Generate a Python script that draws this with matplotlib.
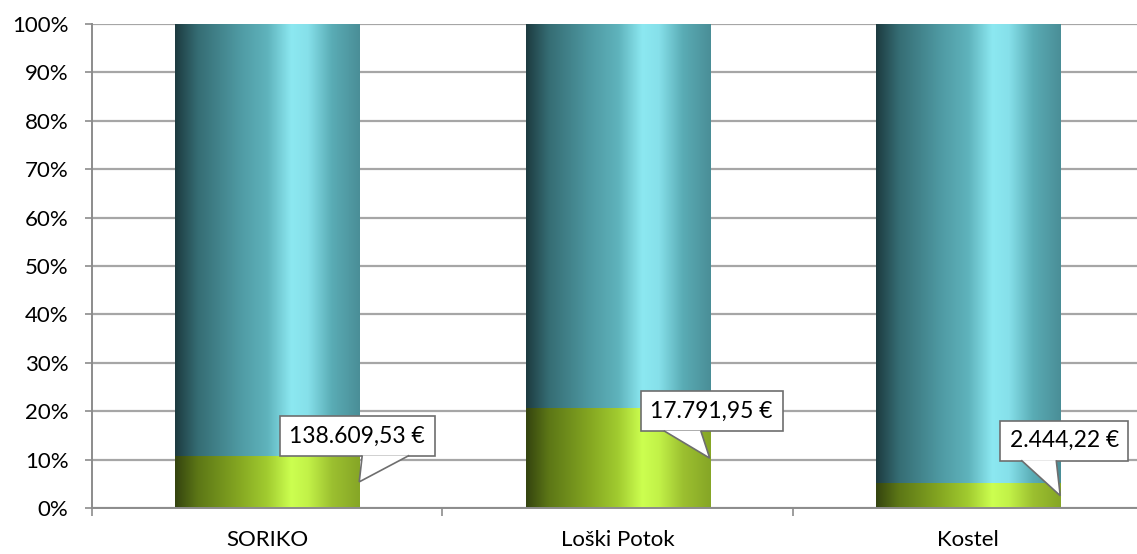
#!/usr/bin/env python3
"""
100% stacked columns with cylinder-style gradient fill and callout labels
"""

import numpy as np
import matplotlib
matplotlib.use("Agg")
import matplotlib.pyplot as plt
import matplotlib.transforms as mtransforms
from matplotlib.colors import LinearSegmentedColormap
from matplotlib.patches import Polygon
from matplotlib.ticker import FuncFormatter, FixedLocator

categories = ["SORIKO", "Loški Potok", "Kostel"]
share_green = [10.8, 20.6, 5.1]          # % of total
share_teal = [100 - v for v in share_green]
callout_text = ["138.609,53 €", "17.791,95 €", "2.444,22 €"]

plt.rcParams["font.family"] = ["Lato", "DejaVu Sans"]

teal_cmap = LinearSegmentedColormap.from_list(
    "teal",
    [(0.0, "#1d3b40"), (0.12, "#356c73"), (0.35, "#4f9aa3"),
     (0.50, "#5fb3bc"), (0.63, "#8ce8f1"), (0.72, "#86e0ea"),
     (0.85, "#5aacb5"), (1.0, "#4a8e97")])
green_cmap = LinearSegmentedColormap.from_list(
    "green",
    [(0.0, "#34440f"), (0.12, "#5c7616"), (0.35, "#86a822"),
     (0.50, "#a2cc30"), (0.63, "#ccff50"), (0.72, "#c2f248"),
     (0.85, "#9cc030"), (1.0, "#86a626")])

fig = plt.figure(figsize=(11.37, 5.54), dpi=100)
ax = fig.add_axes([0.0809, 0.083, 0.9248, 0.8737])

x = np.arange(len(categories))
width = 0.525
bars_green = ax.bar(x, share_green, width, color="none", edgecolor="none")
bars_teal = ax.bar(x, share_teal, width, bottom=share_green,
                   color="none", edgecolor="none")

grad = np.linspace(0, 1, 256).reshape(1, -1)
for bars, cmap in ((bars_green, green_cmap), (bars_teal, teal_cmap)):
    for p in bars:
        x0, y0 = p.get_x(), p.get_y()
        im = ax.imshow(grad, cmap=cmap, aspect="auto", interpolation="bilinear",
                       extent=(x0, x0 + p.get_width(), y0, y0 + p.get_height()),
                       zorder=2)
        im.set_clip_path(p)

ax.set_xlim(-0.5, len(categories) - 0.5)
ax.set_ylim(0, 100)

# gridlines / axes
ax.set_yticks(np.arange(0, 101, 10))
ax.yaxis.set_major_formatter(FuncFormatter(lambda v, _: f"{v:.0f}%"))
ax.yaxis.grid(True, color="#a6a6a6", linewidth=1.6, zorder=0)
ax.set_axisbelow(True)
ax.set_xticks(x)
ax.set_xticklabels(categories)
ax.xaxis.set_minor_locator(FixedLocator([-0.5, 0.5, 1.5, 2.5]))
ax.tick_params(axis="x", which="major", length=0, pad=16, labelsize=16)
ax.tick_params(axis="x", which="minor", length=6, width=1.2, color="#8c8c8c")
ax.tick_params(axis="y", length=5, width=1.2, color="#8c8c8c", labelsize=16, pad=12)
for s in ("top", "right"):
    ax.spines[s].set_visible(False)
for s in ("left", "bottom"):
    ax.spines[s].set_color("#8c8c8c")
    ax.spines[s].set_linewidth(1.4)

# callouts anchored at right edge of bar, middle of green segment
# offsets in pixels relative to the anchor (y up)
box_off = [(-2, 46), (2, 47), (4, 55)]
tail_base = [(3, 50), (-46, -9), (-39, -4)]
for i, p in enumerate(bars_green):
    ax_x = p.get_x() + p.get_width()
    ax_y = p.get_y() + p.get_height() / 2
    anchor = mtransforms.ScaledTranslation(ax_x, ax_y, ax.transData)
    trans = mtransforms.IdentityTransform() + anchor
    dx, dy = box_off[i]
    ax.text(dx, dy, callout_text[i], transform=trans, ha="center",
            va="center", fontsize=16.5, zorder=5,
            bbox=dict(boxstyle="square,pad=0.42", fc="white",
                      ec="#6e6e6e", lw=1.2))
    base_y = dy - 21 + 1.5
    bl, br = tail_base[i]
    tail = [(bl, base_y), (0, 0), (br, base_y)]
    poly = Polygon(tail, closed=False, transform=trans, fc="white",
                   ec="#6e6e6e", lw=1.2, zorder=6)
    ax.add_patch(poly)

plt.savefig("out.png", dpi=100)
